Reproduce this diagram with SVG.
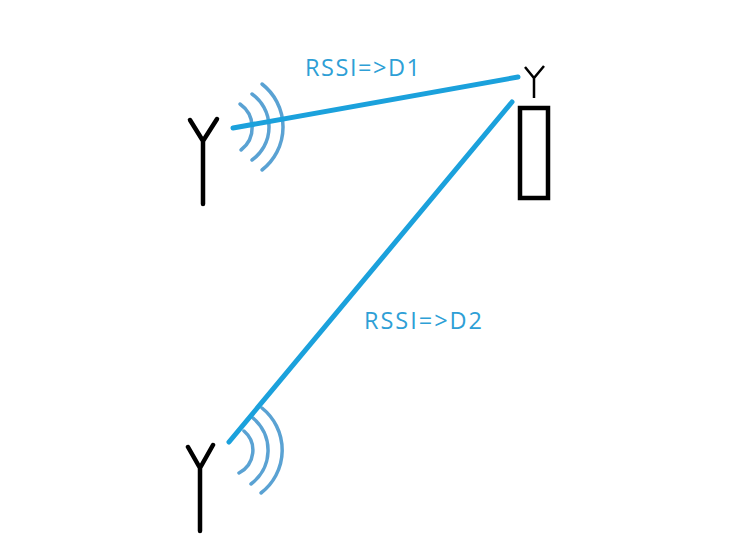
<svg xmlns="http://www.w3.org/2000/svg" width="755" height="560" viewBox="0 0 755 560">
<style>
.ant{fill:none;stroke:#000;stroke-width:4.5;stroke-linecap:round;stroke-linejoin:miter}
.small{fill:none;stroke:#000;stroke-width:2.5}
.wave{fill:none;stroke:#5aa2d3;stroke-width:3.5;stroke-linecap:round}
.link{fill:none;stroke:#1ba1dc;stroke-width:5;stroke-linecap:round}
.lbl{font-family:"Open Sans","Noto Sans",sans-serif;font-size:23.5px;fill:#2e9fd6}
</style>
<rect width="755" height="560" fill="#fff"/>
<g id="antenna-top">
<path class="ant" d="M190 120L203 141L217 119M203 141V204"/>
<path class="wave" d="M240 104A28.5 28.5 0 0 1 241 150"/>
<path class="wave" d="M252 94A40.5 40.5 0 0 1 252 160"/>
<path class="wave" d="M262 84A54.5 54.5 0 0 1 262 170"/>
</g>
<g id="antenna-bottom">
<path class="ant" d="M188 447L200 468L213 445M200 468V531"/>
<path class="wave" d="M244 431A25.5 25.5 0 0 1 239 473"/>
<path class="wave" d="M253 418A42 42 0 0 1 251 484"/>
<path class="wave" d="M262 408A54 54 0 0 1 261 493"/>
</g>
<g id="receiver">
<path class="small" d="M525 67L534 78L544 66M534 78V98"/>
<rect x="520" y="108" width="28" height="90" fill="none" stroke="#000" stroke-width="4.5"/>
</g>
<g id="connectors">
<path class="link" d="M233 128L518 77"/>
<path class="link" d="M229 442L512 102"/>
</g>
<g id="labels">
<text class="lbl" x="305" y="76" textLength="115">RSSI=&gt;D1</text>
<text class="lbl" x="364" y="329" textLength="118">RSSI=&gt;D2</text>
</g>
</svg>
